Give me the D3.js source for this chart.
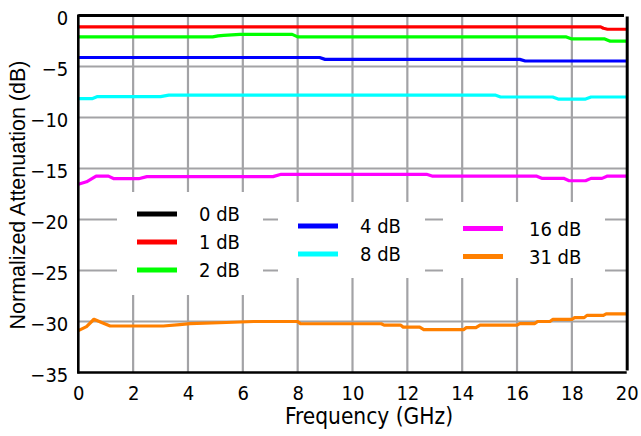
<!DOCTYPE html>
<html>
<head>
<meta charset="utf-8">
<script src="https://cdn.jsdelivr.net/npm/d3@7"></script>
<style>
  html, body { margin: 0; padding: 0; background: #fff; }
  svg { display: block; }
  .tick-label { font-family: "DejaVu Sans Condensed", "DejaVu Sans", sans-serif; font-stretch: condensed; font-size: 20px; fill: #000; }
  .legend-label { font-family: "DejaVu Sans Condensed", "DejaVu Sans", sans-serif; font-stretch: condensed; font-size: 20px; fill: #000; }
  .x-title { font-family: "DejaVu Sans Condensed", "DejaVu Sans", sans-serif; font-stretch: condensed; font-size: 22.5px; fill: #000; }
  .y-title { font-family: "Liberation Sans", Arial, sans-serif; font-size: 21.5px; fill: #000; }
</style>
</head>
<body>
<svg id="chart" width="641" height="436"></svg>
<script>
// Attenuation states (legend order)
const states = ["0 dB", "1 dB", "2 dB", "4 dB", "8 dB", "16 dB", "31 dB"];
const colors = ["#000000", "#ff0000", "#00ff00", "#0000ff", "#00ffff", "#ff00ff", "#ff8000"];

// Normalized attenuation vs frequency (GHz), one pair of arrays per state
const freq0 = [0, 19.9];
const att0  = [0, 0];

const freq1 = [0, 19.05, 19.15, 19.3, 20];
const att1  = [-1.12, -1.12, -1.25, -1.35, -1.35];

const freq2 = [0, 4.9, 5.1, 5.3, 5.6, 5.9, 7.8, 8.0, 17.8, 18.0, 19.2, 19.4, 20];
const att2  = [-2.1, -2.1, -2.0, -1.95, -1.9, -1.85, -1.85, -2.1, -2.1, -2.3, -2.3, -2.52, -2.52];

const freq4 = [0, 8.8, 9.0, 16.1, 16.3, 20];
const att4  = [-4.12, -4.12, -4.3, -4.3, -4.46, -4.46];

const freq8 = [0, 0.5, 0.7, 3.0, 3.3, 15.2, 15.4, 17.3, 17.5, 18.5, 18.7, 20];
const att8  = [-8.15, -8.15, -7.95, -7.95, -7.8, -7.8, -7.99, -7.99, -8.19, -8.19, -7.99, -7.99];

const freq16 = [0, 0.3, 0.65, 1.1, 1.3, 2.2, 2.5, 7.1, 7.4, 12.7, 12.9, 16.7, 16.9, 17.7, 17.9, 18.5, 18.7, 19.1, 19.3, 20];
const att16  = [-16.55, -16.3, -15.75, -15.75, -16.0, -16.0, -15.8, -15.8, -15.57, -15.57, -15.74, -15.74, -15.96, -15.96, -16.2, -16.2, -15.97, -15.97, -15.74, -15.74];

const freq31 = [0, 0.3, 0.57, 0.85, 1.16, 3.1, 3.7, 4.07, 5.4, 6.4, 8.0, 8.1, 11.05, 11.15, 11.75, 11.85, 12.45, 12.6, 14.05, 14.15, 14.5, 14.65, 16.0, 16.1, 16.65, 16.75, 17.2, 17.3, 18.0, 18.1, 18.45, 18.55, 19.15, 19.25, 20];
const att31  = [-30.9, -30.5, -29.78, -30.1, -30.44, -30.44, -30.3, -30.2, -30.1, -30.0, -30.0, -30.22, -30.22, -30.35, -30.35, -30.55, -30.55, -30.8, -30.8, -30.6, -30.6, -30.35, -30.35, -30.2, -30.2, -30.0, -30.0, -29.8, -29.8, -29.62, -29.62, -29.4, -29.4, -29.25, -29.25];

const seriesFreq = [freq0, freq1, freq2, freq4, freq8, freq16, freq31];
const seriesAtt  = [att0, att1, att2, att4, att8, att16, att31];

const xTicks = [0, 2, 4, 6, 8, 10, 12, 14, 16, 18, 20];
const yTicks = [0, -5, -10, -15, -20, -25, -30, -35];

const svg = d3.select("#chart");
const plotL = 78.3, plotR = 626.7, plotT = 15.5, plotB = 372.5;

const x = d3.scaleLinear().domain([0, 20]).range([plotL, plotR]);
const y = d3.scaleLinear().domain([-35, 0]).range([plotB, plotT]);

// grid
const grid = svg.append("g").attr("stroke", "#a3a3a6").attr("stroke-width", 2.2);
grid.selectAll("line.v").data(xTicks.filter(d => d > 0 && d < 20)).join("line")
  .attr("class", "v")
  .attr("x1", d => x(d)).attr("x2", d => x(d)).attr("y1", plotT).attr("y2", plotB);
grid.selectAll("line.h").data(yTicks.filter(d => d < 0 && d > -35)).join("line")
  .attr("class", "h")
  .attr("x1", plotL).attr("x2", plotR).attr("y1", d => y(d)).attr("y2", d => y(d));

// traces
const line = d3.line().x(d => x(d[0])).y(d => y(d[1]));
const traces = svg.append("g").attr("fill", "none").attr("stroke-width", 3.2)
  .attr("stroke-linejoin", "round");
seriesFreq.forEach((f, i) => {
  traces.append("path")
    .attr("d", line(f.map((v, k) => [v, seriesAtt[i][k]])))
    .attr("stroke", colors[i]);
});

// frame: left, bottom, right
svg.append("line").attr("x1", plotL).attr("x2", plotL).attr("y1", plotT - 1).attr("y2", plotB + 1)
  .attr("stroke", "#000").attr("stroke-width", 2.6);
svg.append("line").attr("x1", plotL - 1).attr("x2", plotR).attr("y1", plotB).attr("y2", plotB)
  .attr("stroke", "#000").attr("stroke-width", 2.6);
svg.append("line").attr("x1", plotR + 0.5).attr("x2", plotR + 0.5).attr("y1", plotT + 1).attr("y2", plotB - 2)
  .attr("stroke", "#000").attr("stroke-width", 3);

// axes tick labels
const xAxis = d3.axisBottom(x).tickValues(xTicks).tickSize(0).tickPadding(0).tickFormat(d3.format("d"));
const gx = svg.append("g").attr("transform", `translate(0,${plotB + 13})`).call(xAxis);
gx.select(".domain").remove();
gx.selectAll("text").attr("class", "tick-label").attr("dy", "0.71em").attr("fill", null);

const yAxis = d3.axisLeft(y).tickValues(yTicks).tickSize(0).tickPadding(0).tickFormat(d3.format("d"));
const gy = svg.append("g").attr("transform", `translate(${plotL - 10},2.5)`).call(yAxis);
gy.select(".domain").remove();
gy.selectAll("text").attr("class", "tick-label").attr("fill", null);
gx.attr("font-family", null).attr("font-size", null);
gy.attr("font-family", null).attr("font-size", null);

// axis titles
svg.append("text").attr("class", "x-title").attr("x", 369).attr("y", 424)
  .attr("text-anchor", "middle").text("Frequency (GHz)");
svg.append("text").attr("class", "y-title")
  .attr("transform", "translate(25,195) rotate(-90)")
  .attr("text-anchor", "middle").text("Normalized Attenuation (dB)");

// legend: three boxed columns
const legendCols = [
  { box: [117, 192, 146, 103], idx: [0, 1, 2], y0: 214 },
  { box: [278, 202, 147, 76],  idx: [3, 4],    y0: 226 },
  { box: [443, 202, 162, 76],  idx: [5, 6],    y0: 228.5 }
];
const lg = svg.append("g");
legendCols.forEach(col => {
  const [bx, by, bw, bh] = col.box;
  lg.append("rect").attr("x", bx).attr("y", by).attr("width", bw).attr("height", bh).attr("fill", "#fff");
  col.idx.forEach((si, r) => {
    const ry = col.y0 + r * 28;
    lg.append("line").attr("x1", bx + 20).attr("x2", bx + 60).attr("y1", ry).attr("y2", ry)
      .attr("stroke", colors[si]).attr("stroke-width", 5);
    lg.append("text").attr("class", "legend-label").attr("x", bx + (si >= 5 ? 86 : 82)).attr("y", ry + 7)
      .text(states[si]);
  });
});
</script>
</body>
</html>
